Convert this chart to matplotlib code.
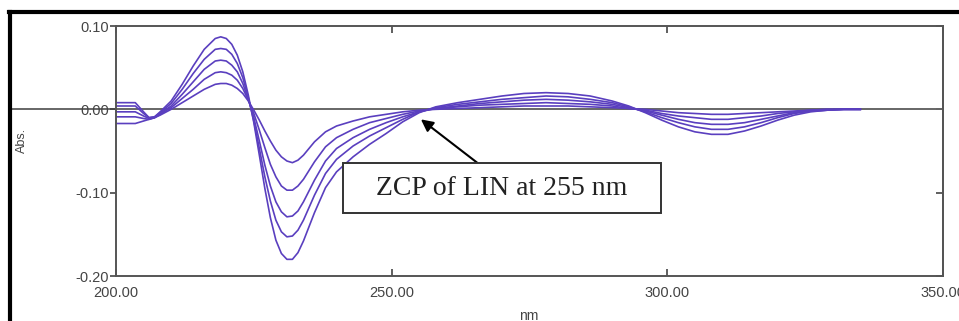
import matplotlib.pyplot as plt
from matplotlib.lines import Line2D
from matplotlib.patches import Rectangle

# first-derivative absorbance spectra, one list per concentration level
wavelength = [200, 203.5, 205, 206, 207, 208, 210, 212, 214, 216, 218, 219, 220, 221,
              222, 223, 224, 225, 226, 227, 228, 229, 230, 231, 232, 233, 234, 236,
              238, 240, 243, 246, 249, 252, 255, 258, 262, 266, 270, 274, 278, 282,
              286, 290, 293, 296, 299, 302, 305, 308, 311, 314, 317, 320, 323, 326,
              329, 332, 335]

level_5 = [0.008, 0.008, -0.003, -0.010, -0.009, -0.003, 0.010, 0.030, 0.052, 0.072,
           0.085, 0.087, 0.085, 0.078, 0.065, 0.045, 0.017, -0.016, -0.055, -0.095,
           -0.130, -0.157, -0.173, -0.180, -0.180, -0.172, -0.158, -0.124, -0.094,
           -0.075, -0.057, -0.042, -0.029, -0.015, -0.004, 0.003, 0.008, 0.012, 0.016,
           0.019, 0.020, 0.019, 0.016, 0.010, 0.004, -0.004, -0.013, -0.021, -0.027,
           -0.030, -0.030, -0.026, -0.020, -0.013, -0.007, -0.003, -0.001, 0.000, 0.000]

level_4 = [0.004, 0.004, -0.005, -0.010, -0.009, -0.004, 0.007, 0.024, 0.043, 0.060,
           0.072, 0.073, 0.072, 0.066, 0.055, 0.038, 0.014, -0.014, -0.047, -0.081,
           -0.110, -0.133, -0.147, -0.153, -0.152, -0.145, -0.133, -0.103, -0.077,
           -0.060, -0.044, -0.032, -0.022, -0.012, -0.003, 0.002, 0.006, 0.009, 0.012,
           0.014, 0.016, 0.015, 0.012, 0.008, 0.003, -0.003, -0.010, -0.016, -0.021,
           -0.024, -0.024, -0.021, -0.016, -0.010, -0.005, -0.002, -0.001, 0.000, 0.000]

level_3 = [-0.003, -0.003, -0.008, -0.011, -0.010, -0.005, 0.004, 0.018, 0.033, 0.048,
           0.058, 0.059, 0.058, 0.053, 0.045, 0.031, 0.012, -0.010, -0.038, -0.067,
           -0.092, -0.111, -0.123, -0.129, -0.128, -0.122, -0.111, -0.085, -0.062,
           -0.047, -0.034, -0.024, -0.016, -0.009, -0.003, 0.001, 0.004, 0.007, 0.009,
           0.011, 0.012, 0.011, 0.009, 0.006, 0.002, -0.002, -0.007, -0.012, -0.016,
           -0.018, -0.018, -0.016, -0.012, -0.008, -0.004, -0.002, -0.001, 0.000, 0.000]

level_2 = [-0.009, -0.009, -0.011, -0.012, -0.010, -0.006, 0.002, 0.013, 0.024, 0.036,
           0.044, 0.045, 0.044, 0.041, 0.035, 0.025, 0.011, -0.005, -0.025, -0.046,
           -0.066, -0.081, -0.092, -0.097, -0.097, -0.092, -0.084, -0.063, -0.045,
           -0.034, -0.024, -0.016, -0.011, -0.006, -0.002, 0.001, 0.003, 0.005, 0.006,
           0.007, 0.008, 0.007, 0.006, 0.004, 0.001, -0.001, -0.005, -0.008, -0.010,
           -0.012, -0.012, -0.010, -0.008, -0.005, -0.003, -0.001, 0.000, 0.000, 0.000]

level_1 = [-0.017, -0.017, -0.014, -0.012, -0.010, -0.007, 0.000, 0.008, 0.016, 0.024,
           0.030, 0.031, 0.031, 0.029, 0.025, 0.019, 0.010, -0.001, -0.013, -0.026,
           -0.038, -0.049, -0.057, -0.062, -0.064, -0.061, -0.055, -0.039, -0.027,
           -0.020, -0.014, -0.009, -0.006, -0.003, -0.001, 0.000, 0.001, 0.002, 0.003,
           0.004, 0.004, 0.004, 0.003, 0.002, 0.001, 0.000, -0.002, -0.004, -0.005,
           -0.006, -0.006, -0.005, -0.004, -0.003, -0.002, -0.001, 0.000, 0.000, 0.000]

spectra = [level_1, level_2, level_3, level_4, level_5]

x_ticks = [200, 250, 300, 350]
x_labels = ['200.00', '250.00', '300.00', '350.00']
y_ticks = [0.10, 0.00, -0.10, -0.20]
y_labels = ['0.10', '0.00', '-0.10', '-0.20']

W, H = 959, 321
fig = plt.figure(figsize=(W / 100, H / 100), dpi=100)
ax = fig.add_axes([116 / W, 1 - 276 / H, (943 - 116) / W, (276 - 26) / H])

# zero baseline runs out to the outer frame on the left
ax.axhline(0, xmin=(11 - 116) / (943 - 116), xmax=1, color='#666666', lw=1.4,
           clip_on=False, zorder=1)

for spec in spectra:
    ax.plot(wavelength, spec, color='#5a3fbf', lw=1.2, zorder=2)

ax.set_xlim(200, 350)
ax.set_ylim(-0.20, 0.10)
ax.set_xticks(x_ticks)
ax.set_xticklabels(x_labels)
ax.set_yticks(y_ticks)
ax.set_yticklabels(y_labels)

tick_font = dict(family='Liberation Sans', size=10.5)
for lab in ax.get_xticklabels() + ax.get_yticklabels():
    lab.set_fontfamily(tick_font['family'])
    lab.set_fontsize(tick_font['size'])

ax.tick_params(axis='x', direction='in', top=True, length=5, width=1.2,
               colors='#444444', pad=7)
ax.tick_params(axis='y', direction='out', length=4, width=1.2,
               colors='#444444', pad=1)
for s in ax.spines.values():
    s.set_color('#555555')
    s.set_linewidth(1.4)

right = ax.secondary_yaxis('right')
right.set_yticks(y_ticks)
right.tick_params(direction='in', length=5, width=1.2, colors='#444444',
                  labelright=False)
right.spines['right'].set_color('#555555')
right.spines['right'].set_linewidth(1.4)

fig.text(529 / W, 1 - 309 / H, 'nm', ha='center', va='top', fontsize=10,
         family='Liberation Sans', color='#444444')
fig.text(22 / W, 1 - 140 / H, 'Abs.', ha='center', va='center', rotation=90,
         fontsize=9, family='Liberation Sans', color='#444444')

# annotation box and arrow for the zero-crossing point
fig.add_artist(Rectangle((343 / W, 1 - 213 / H), (661 - 343) / W, 50 / H,
                         transform=fig.transFigure, facecolor='white',
                         edgecolor='#333333', lw=1.4, zorder=5))
fig.text(502 / W, 1 - 189 / H, 'ZCP of LIN at 255 nm', ha='center', va='center',
         family='Liberation Serif', fontsize=20, color='#222222', zorder=6)
ax.annotate('', xy=(255.3, -0.012), xytext=(265.5, -0.064),
            arrowprops=dict(arrowstyle='-|>', color='black', lw=1.5,
                            mutation_scale=18, shrinkA=0, shrinkB=0),
            zorder=6)

# heavy outer frame (left and top)
fig.add_artist(Line2D([10 / W, 10 / W], [0, 1 - 12 / H], color='black', lw=3,
                      transform=fig.transFigure))
fig.add_artist(Line2D([8.9 / W, 1], [1 - 12 / H, 1 - 12 / H], color='black', lw=3,
                      transform=fig.transFigure))

fig.savefig('out.png', dpi=100)
